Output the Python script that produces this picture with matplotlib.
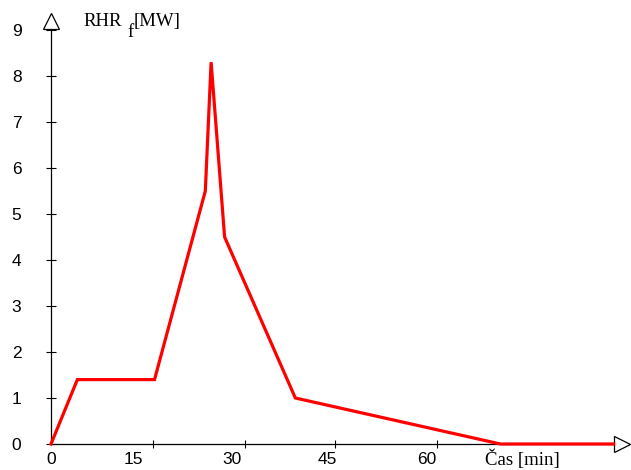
import matplotlib
matplotlib.use('Agg')
import matplotlib.pyplot as plt

## data (time in min, heat release rate in MW)
time_min = [0, 4.1, 16.1, 24.0, 24.9, 27.0, 38.0, 69.9, 87.5]
rhr_mw = [0, 1.4, 1.4, 5.5, 8.3, 4.5, 1.0, 0, 0]

yticks = [0, 1, 2, 3, 4, 5, 6, 7, 8, 9]
xtick_marks = [15.9, 30.1, 44.2, 60.0]
xtick_labels = ['0', '15', '30', '45', '60']
xtick_label_pos = [0, 12.75, 28.1, 43.05, 58.45]

W, H = 631, 470
fig = plt.figure(figsize=(W / 100, H / 100), dpi=100)
fig.patch.set_facecolor('white')

## axes origin at pixel (51, 444); 6.43 px per min, 46 px per MW
px_min, px_mw = 6.43, 46.0
ax = fig.add_axes([51 / W, 26 / H, 580 / W, 444 / H])
ax.set_xlim(0, 580 / px_min)
ax.set_ylim(0, 444 / px_mw)
for s in ax.spines.values():
    s.set_visible(False)

## axis lines with open arrow heads
ytop = (444 - 29) / px_mw
xend = (613 - 51) / px_min
ax.plot([0, 0], [0, ytop], color='black', lw=0.9, clip_on=False, zorder=2)
ax.plot([0, xend], [0, 0], color='black', lw=0.9, clip_on=False, zorder=2)
ax.plot([0], [(444 - 21) / px_mw], marker='^', ms=12, mfc='white', mec='black',
        mew=0.9, clip_on=False, zorder=3)
ax.plot([(621.5 - 51) / px_min], [0], marker='>', ms=12, mfc='white', mec='black',
        mew=0.9, clip_on=False, zorder=3)

## curve
ax.plot(time_min, rhr_mw, color='#ff0000', lw=2.3, clip_on=False, zorder=4,
        solid_joinstyle='miter')

## ticks
ax.set_yticks(yticks, [str(v) for v in yticks])
ax.tick_params(axis='y', direction='inout', length=6.5, width=0.8, pad=21.5,
               labelsize=12.5, colors='black')
for lbl in ax.get_yticklabels():
    lbl.set_ha('center')
    lbl.set_family('Liberation Sans')

ax.set_xticks(xtick_label_pos, xtick_labels)
ax.set_xticks(xtick_marks, minor=True)
ax.tick_params(axis='x', which='major', length=0, pad=5.5, labelsize=12.5)
ax.tick_params(axis='x', which='minor', direction='inout', length=6, width=0.8)
for lbl in ax.get_xticklabels():
    lbl.set_family('Liberation Sans')

## axis titles
serif = 'Liberation Serif'
fig.text(83 / W, 1 - 26 / H, 'RHR', family=serif, fontsize=13.5, va='baseline')
fig.text(127 / W, 1 - 37 / H, 'f', family=serif, fontsize=13.5, va='baseline')
fig.text(134 / W, 1 - 26 / H, '[MW]', family=serif, fontsize=13.5, va='baseline')
fig.text(485 / W, 1 - 465 / H, 'Čas [min]', family=serif, fontsize=13.5, va='baseline')

fig.savefig('out.png', dpi=100, facecolor='white')
